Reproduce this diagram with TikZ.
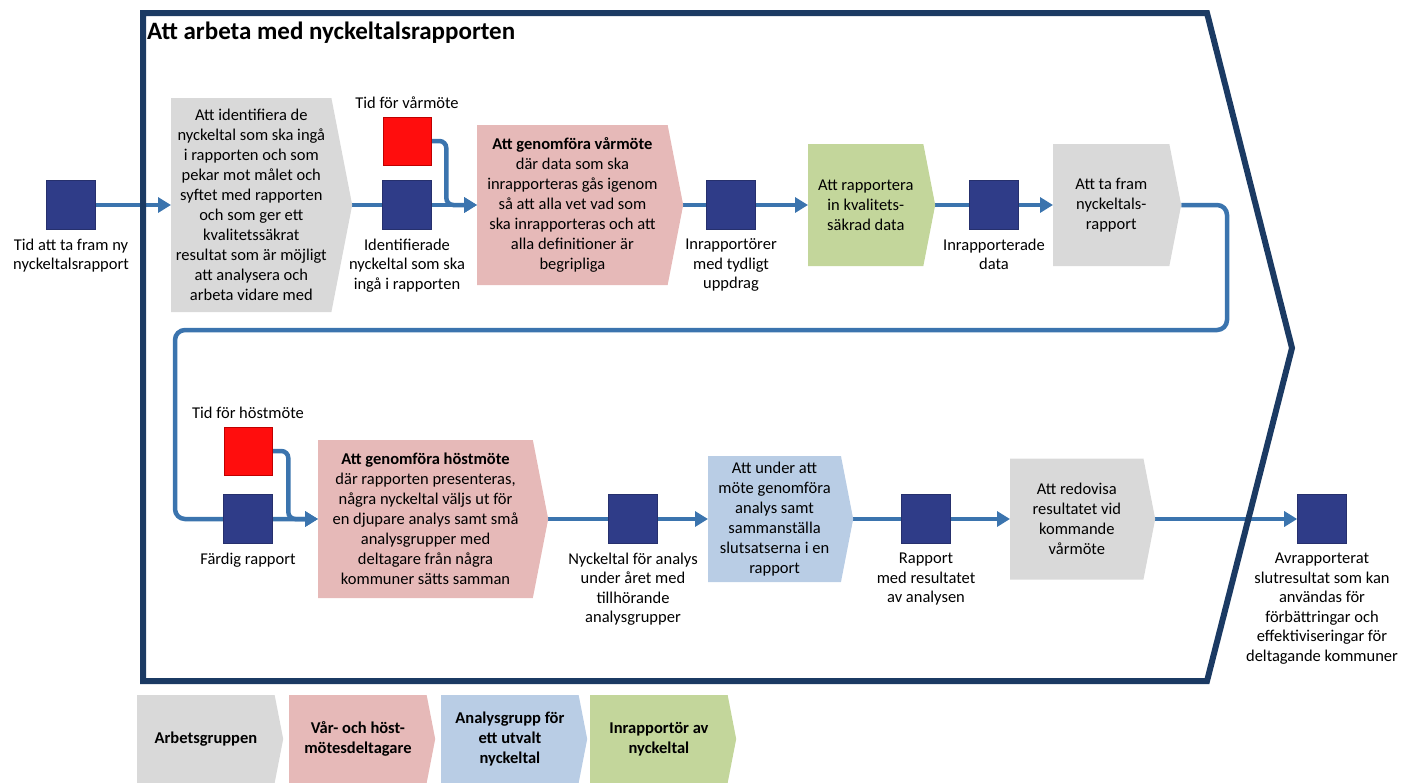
\documentclass[tikz,border=0pt]{standalone}
\usepackage{fontspec}
\setmainfont{Carlito}
\usepackage{tikz}
\usetikzlibrary{shapes.symbols, arrows.meta, positioning, backgrounds}
\definecolor{ramblue}{HTML}{1B3A63}
\definecolor{flowblue}{HTML}{3B74AE}
\definecolor{docblue}{HTML}{2F3C88}
\definecolor{grayfill}{HTML}{D9D9D9}
\definecolor{pinkfill}{HTML}{E6B9B8}
\definecolor{bluefill}{HTML}{B9CDE5}
\definecolor{greenfill}{HTML}{C3D69B}
\tikzstyle{chevron} = [signal, signal to=east, signal pointer angle=158, inner sep=2pt, align=center, font=\fontsize{16.5}{20}\selectfont]
\tikzstyle{arbetsgrupp} = [chevron, fill=grayfill]
\tikzstyle{motesgrupp} = [chevron, fill=pinkfill]
\tikzstyle{analysgrupp} = [chevron, fill=bluefill]
\tikzstyle{inrapportor} = [chevron, fill=greenfill]
\tikzstyle{legend} = [font=\bfseries\fontsize{16.5}{20}\selectfont, anchor=west, minimum width=146pt, minimum height=88pt]
\tikzstyle{doc} = [rectangle, minimum size=49pt, inner sep=0pt, fill=docblue, draw=docblue!80!black, line width=0.6pt]
\tikzstyle{tidpunkt} = [rectangle, minimum size=48pt, inner sep=0pt, fill=red!95!white, draw=red!75!black, line width=0.6pt]
\tikzstyle{caption} = [align=center, inner sep=0pt, font=\fontsize{16.5}{19.5}\selectfont]
\tikzstyle{arrow} = [draw=flowblue, line width=4.5pt, -{Triangle[length=13pt, width=15pt]}]
\tikzstyle{ram} = [draw=ramblue, line width=6pt, line join=miter]

\begin{document}
\begin{tikzpicture}[x=1pt, y=-1pt]
        \useasboundingbox (0,0) rectangle (1403,782);
        % ram
        \draw[ram] (143,13) -- (1207,13) -- (1292,348) -- (1207,681) -- (143,681) -- cycle;
        \node[anchor=west, inner sep=0pt, font=\bfseries\fontsize{25}{30}\selectfont] (titel) at (147,33) {Att arbeta med nyckeltalsrapporten};

        % rad 1
        \node[doc] (start) at (71,205) {};
        \node[caption, below=9pt of start] (startTxt) {Tid att ta fram ny\\nyckeltalsrapport};
        \node[arbetsgrupp, anchor=west, minimum width=181pt, minimum height=214pt] (identifiera) at (171,205) {Att identifiera de\\nyckeltal som ska ingå\\i rapporten och som\\pekar mot målet och\\syftet med rapporten\\och som ger ett\\kvalitetssäkrat\\resultat som är möjligt\\att analysera och\\arbeta vidare med};
        \node[doc] (identifierade) at (407,205) {};
        \node[caption, below=9pt of identifierade] (identifieradeTxt) {Identifierade\\nyckeltal som ska\\ingå i rapporten};
        \node[tidpunkt] (varTid) at (407,141) {};
        \node[caption, above=8pt of varTid] (varTidTxt) {Tid för vårmöte};
        \node[motesgrupp, anchor=west, minimum width=206pt, minimum height=160pt] (varmote) at (477,205) {\textbf{Att genomföra vårmöte}\\där data som ska\\inrapporteras gås igenom\\så att alla vet vad som\\ska inrapporteras och att\\alla definitioner är\\begripliga};
        \node[doc] (uppdrag) at (731,205) {};
        \node[caption, below=9pt of uppdrag] (uppdragTxt) {Inrapportörer\\med tydligt\\uppdrag};
        \node[inrapportor, anchor=west, minimum width=127pt, minimum height=122pt] (rapportera) at (808,205) {Att rapportera\\in kvalitets-\\säkrad data};
        \node[doc] (inrapporterade) at (994,205) {};
        \node[caption, below=9pt of inrapporterade] (inrapporteradeTxt) {Inrapporterade\\data};
        \node[arbetsgrupp, anchor=west, minimum width=128pt, minimum height=122pt] (tafram) at (1053,205) {Att ta fram\\nyckeltals-\\rapport};

        % rad 2
        \coordinate (loopR) at (1227,330);
        \coordinate (loopL) at (175,330);
        \node[doc] (fardig) at (248,519) {};
        \node[caption, below=9pt of fardig] (fardigTxt) {Färdig rapport};
        \node[tidpunkt] (hostTid) at (248,451) {};
        \node[caption, above=8pt of hostTid] (hostTidTxt) {Tid för höstmöte};
        \node[motesgrupp, anchor=west, minimum width=230pt, minimum height=158pt] (hostmote) at (318,519) {\textbf{Att genomföra höstmöte}\\där rapporten presenteras,\\några nyckeltal väljs ut för\\en djupare analys samt små\\analysgrupper med\\deltagare från några\\kommuner sätts samman};
        \node[doc] (valda) at (633,519) {};
        \node[caption, below=9pt of valda] (valdaTxt) {Nyckeltal för analys\\under året med\\tillhörande\\analysgrupper};
        \node[analysgrupp, anchor=west, minimum width=145pt, minimum height=126pt] (analys) at (708,519) {Att under att\\möte genomföra\\analys samt\\sammanställa\\slutsatserna i en\\rapport};
        \node[doc] (resultat) at (926,519) {};
        \node[caption, below=9pt of resultat] (resultatTxt) {Rapport\\med resultatet\\av analysen};
        \node[arbetsgrupp, anchor=west, minimum width=145pt, minimum height=121pt] (redovisa) at (1010,519) {Att redovisa\\resultatet vid\\kommande\\vårmöte};
        \node[doc] (slut) at (1322,519) {};
        \node[caption, below=9pt of slut] (slutTxt) {Avrapporterat\\slutresultat som kan\\användas för\\förbättringar och\\effektiviseringar för\\deltagande kommuner};

        % flöde
        \begin{pgfonlayer}{background}
            \draw[arrow] (start) -- (identifiera.west);
            \draw[arrow] (identifiera.east) -- (identifierade) -- (varmote.west);
            \draw[arrow, rounded corners=7pt] (varTid.east) -- ++(15,0) |- (varmote.west);
            \draw[arrow] (varmote.east) -- (uppdrag) -- (rapportera.west);
            \draw[arrow] (rapportera.east) -- (inrapporterade) -- (tafram.west);
            \draw[arrow, rounded corners=10pt] (tafram.east) -| (loopR) -- (loopL) |- (hostmote.west);
            \draw[arrow, rounded corners=7pt] (hostTid.east) -- ++(16,0) |- (hostmote.west);
            \draw[arrow] (hostmote.east) -- (valda) -- (analys.west);
            \draw[arrow] (analys.east) -- (resultat) -- (redovisa.west);
            \draw[arrow] (redovisa.east) -- (slut.west);
        \end{pgfonlayer}

        % roller
        \node[arbetsgrupp, legend] (legArbetsgrupp) at (137,739) {Arbetsgruppen};
        \node[motesgrupp, legend] (legMotesgrupp) at (289,739) {Vår- och höst-\\mötesdeltagare};
        \node[analysgrupp, legend] (legAnalysgrupp) at (441,739) {Analysgrupp för\\ett utvalt\\nyckeltal};
        \node[inrapportor, legend] (legInrapportor) at (590,739) {Inrapportör av\\nyckeltal};
    \end{tikzpicture}
\end{document}
